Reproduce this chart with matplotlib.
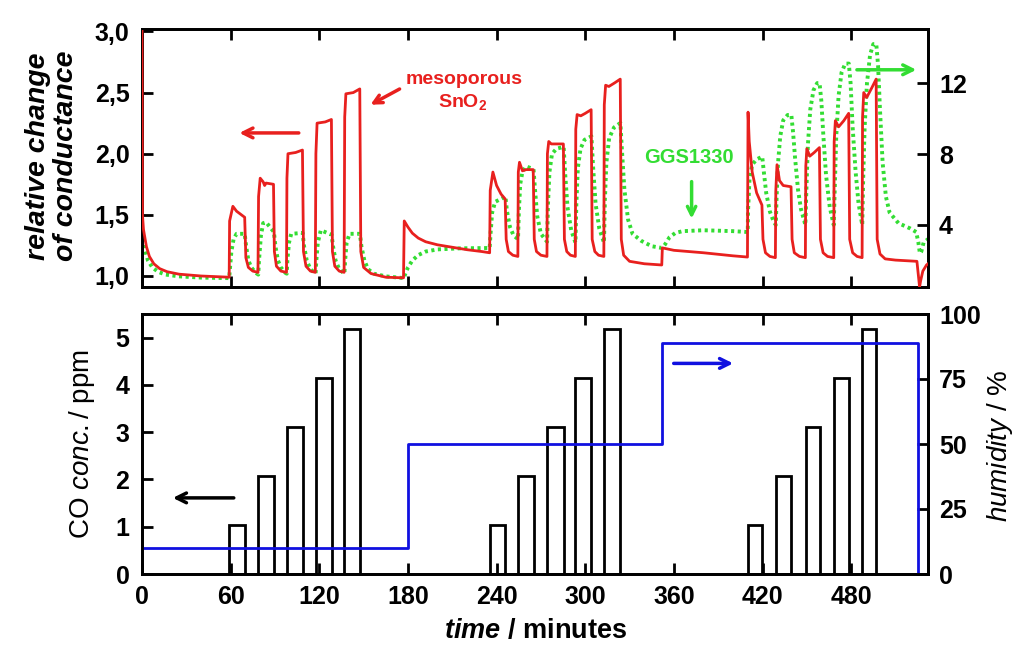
import matplotlib
matplotlib.use("Agg")
import matplotlib.pyplot as plt

plt.rcParams['font.family'] = ['Liberation Sans', 'DejaVu Sans']
plt.rcParams['mathtext.fontset'] = 'custom'
plt.rcParams['mathtext.it'] = 'Liberation Sans:italic'
plt.rcParams['mathtext.bf'] = 'Liberation Sans:bold:italic'
plt.rcParams['mathtext.rm'] = 'Liberation Sans'

# ---------------- data ----------------
# mesoporous SnO2: relative change of conductance (left axis, top panel)
red_t = [0, 0.3, 1, 3, 5, 8, 12, 17, 25, 40, 59,
         59.3, 61.5, 64, 69.5, 70.3, 72, 75, 78.5,
         78.9, 80, 82, 83, 84, 89, 89.6, 91, 94, 97.8,
         98.1, 98.8, 104, 108.6, 109.3, 111, 114, 117.3,
         117.7, 118.5, 124, 128.2, 128.9, 130.5, 133.5, 136.8,
         137.2, 138, 143, 147.4, 148.1, 150, 155, 165, 177,
         177.5, 180, 183, 187, 192, 200, 210, 220, 230, 235.3,
         235.7, 237.5, 240, 243, 245.8, 246.5, 248, 251, 254.4,
         254.7, 255.5, 257.5, 260, 264.8, 265.5, 267, 270, 274.1,
         274.4, 275.3, 277, 285.2, 285.9, 287.5, 290, 293.3,
         293.6, 294.5, 297, 300, 304, 304.7, 306.5, 309, 312.6,
         312.9, 313.8, 316, 320, 323.7, 324.4, 326, 330, 340, 351.8,
         352.2, 360, 380, 400, 409.8,
         410.2, 411, 413, 416, 419.6, 420.3, 422, 425, 428.7,
         429, 429.8, 431.5, 434, 439.3, 440, 441.5, 445, 449,
         449.3, 450, 452, 455, 458.5, 459.2, 461, 464, 468.2,
         468.5, 469.3, 471.5, 475, 478.3, 479, 481, 484, 487.4,
         487.7, 488.5, 490.5, 494, 496.9, 497.6, 499.5, 503, 510, 524.5,
         525.5, 526.3, 527, 528.5, 531, 532]
red_v = [3.0, 1.5, 1.38, 1.24, 1.16, 1.10, 1.06, 1.035, 1.015, 1.0, 0.99,
         1.45, 1.57, 1.53, 1.48, 1.15, 1.07, 1.04, 1.03,
         1.65, 1.80, 1.77, 1.74, 1.76, 1.75, 1.2, 1.08, 1.04, 1.03,
         1.8, 2.0, 2.01, 2.03, 1.2, 1.08, 1.04, 1.03,
         2.0, 2.25, 2.26, 2.28, 1.2, 1.08, 1.04, 1.03,
         2.3, 2.49, 2.50, 2.53, 1.2, 1.07, 1.02, 0.99, 0.985,
         1.45, 1.40, 1.35, 1.31, 1.28, 1.255, 1.235, 1.215, 1.20, 1.19,
         1.7, 1.85, 1.74, 1.67, 1.63, 1.3, 1.2, 1.17, 1.16,
         1.85, 1.93, 1.86, 1.87, 1.87, 1.3, 1.2, 1.17, 1.16,
         2.0, 2.10, 2.08, 2.08, 1.3, 1.2, 1.17, 1.16,
         2.2, 2.32, 2.31, 2.33, 2.36, 1.3, 1.2, 1.17, 1.16,
         2.4, 2.56, 2.55, 2.58, 2.61, 1.3, 1.17, 1.12, 1.10, 1.09,
         1.23, 1.21, 1.19, 1.165, 1.155,
         2.34, 2.1, 1.85, 1.68, 1.58, 1.3, 1.19, 1.16, 1.15,
         1.7, 1.91, 1.78, 1.74, 1.73, 1.3, 1.19, 1.16, 1.15,
         1.9, 2.04, 1.98, 2.01, 2.05, 1.3, 1.19, 1.16, 1.15,
         2.1, 2.27, 2.22, 2.27, 2.33, 1.3, 1.19, 1.16, 1.15,
         2.3, 2.50, 2.46, 2.54, 2.61, 1.3, 1.18, 1.14, 1.13, 1.12,
         1.0, 0.91, 0.96, 1.04, 1.09, 1.10]

# GGS1330 sensor signal (right axis, top panel)
green_t = [0, 0.5, 2, 4, 7, 11, 16, 25, 40, 59,
           59.5, 60.5, 62, 64, 69.5, 70.5, 72, 74, 77, 78.7,
           79.2, 80.5, 82, 84, 89.3, 90.3, 92, 94, 97, 98,
           98.4, 99.5, 101, 108.7, 109.7, 111.5, 114, 117.5,
           118, 119, 121, 124, 128.3, 129.3, 131, 133.5, 137,
           137.5, 138.5, 140.5, 147.5, 148.5, 150.5, 153, 157, 165, 177.5,
           178, 180, 183, 187, 192, 200, 215, 235.3,
           236, 237, 239, 246, 247, 249, 251.5, 254.5,
           255.1, 256, 257.5, 260, 265, 266, 267.5, 270, 274.2,
           274.8, 275.8, 277.5, 280.5, 285.4, 286.5, 288, 290.5, 293.4,
           294, 295, 296.8, 299.5, 304.2, 305.3, 307, 309.5, 312.7,
           313.3, 314.3, 316.2, 319.5, 323.8, 325, 326.5, 329, 332, 338, 345, 352,
           354, 357, 361, 366, 380, 400, 410,
           410.2, 411.2, 413, 416, 419.8, 421, 422.5, 425, 427.5, 429,
           429.5, 430.5, 432, 434, 437, 439.5, 440.7, 442, 444, 446, 449,
           449.7, 450.7, 452.3, 454.5, 457, 458.6, 459.8, 461.2, 463, 465.5, 468.2,
           468.9, 469.9, 471.5, 473.5, 476, 478.4, 479.6, 481, 483, 485, 487.5,
           488.1, 489.1, 490.7, 492.8, 495, 497, 498.2, 499.5, 501.3, 503.5, 506, 512, 520, 524,
           525.5, 526.5, 527.5, 529, 532]
green_v = [3.6, 3.3, 2.6, 2.0, 1.6, 1.35, 1.2, 1.1, 1.03, 1.0,
           1.5, 2.5, 3.2, 3.5, 3.5, 2.8, 2.0, 1.6, 1.3, 1.2,
           2.0, 3.4, 4.1, 4.15, 3.6, 2.8, 2.0, 1.6, 1.3, 1.25,
           2.0, 3.0, 3.5, 3.55, 2.8, 2.0, 1.5, 1.25,
           2.0, 3.0, 3.7, 3.6, 3.45, 2.8, 2.0, 1.5, 1.25,
           2.0, 3.0, 3.5, 3.5, 2.8, 2.0, 1.5, 1.25, 1.1, 1.0,
           1.2, 1.6, 2.0, 2.3, 2.5, 2.62, 2.68, 2.7,
           3.6, 4.7, 5.3, 5.6, 4.8, 3.9, 3.4, 3.2,
           4.8, 6.3, 7.0, 7.3, 7.15, 6.0, 4.5, 3.5, 3.05,
           5.2, 7.0, 8.0, 8.3, 8.4, 6.8, 5.0, 3.7, 3.0,
           5.2, 7.2, 8.3, 8.8, 9.0, 7.3, 5.2, 3.8, 3.0,
           5.4, 7.5, 8.9, 9.5, 9.75, 8.0, 6.0, 4.3, 3.5, 3.1, 2.8, 2.7,
           2.9, 3.3, 3.55, 3.65, 3.7, 3.65, 3.6,
           4.8, 6.6, 7.4, 7.7, 7.85, 6.9, 5.8, 4.75, 4.2, 4.0,
           5.5, 7.5, 9.0, 9.9, 10.2, 10.2, 9.2, 7.8, 6.0, 4.9, 4.0,
           6.0, 8.5, 10.5, 11.6, 12.0, 12.0, 11.0, 9.0, 6.8, 5.0, 4.0,
           6.0, 9.0, 11.3, 12.6, 13.1, 13.1, 12.0, 9.5, 7.0, 5.2, 4.0,
           6.5, 9.5, 12.0, 13.6, 14.2, 14.2, 13.0, 10.5, 7.5, 5.6, 4.7, 4.1, 3.8, 3.6,
           3.0, 2.4, 2.5, 3.0, 3.2]

# CO pulses: start / end time (minutes) and concentration (ppm)
co_start = [59.1, 78.7, 97.9, 117.5, 136.9,
            235.4, 254.5, 274.2, 293.4, 312.7,
            410.0, 428.9, 449.1, 468.3, 487.5]
co_end = [69.7, 89.3, 108.7, 128.3, 147.5,
          246.0, 265.0, 285.4, 304.2, 323.8,
          419.8, 439.5, 458.6, 478.4, 497.0]
co_conc = [1.03, 2.07, 3.10, 4.15, 5.19,
           1.03, 2.07, 3.10, 4.15, 5.19,
           1.03, 2.07, 3.10, 4.15, 5.19]

# humidity steps
hum_t = [0, 180, 352, 525]
hum_v = [10, 50, 89, 0]

x_ticks = [0, 60, 120, 180, 240, 300, 360, 420, 480]
top_left_ticks = [1.0, 1.5, 2.0, 2.5, 3.0]
top_left_labels = ['1,0', '1,5', '2,0', '2,5', '3,0']
top_right_ticks = [4, 8, 12]
bot_left_ticks = [0, 1, 2, 3, 4, 5]
bot_right_ticks = [0, 25, 50, 75, 100]

RED = '#e8201e'
GREEN = '#33dd33'
BLUE = '#1010e0'
TICKFS = 18

fig = plt.figure(figsize=(10.24, 6.57), dpi=100)
W, H = 1024, 657


def rect(l, t, r, b):
    return [l / W, 1 - b / H, (r - l) / W, (b - t) / H]


ax1 = fig.add_axes(rect(142, 29, 928, 287))
ax2 = fig.add_axes(rect(142, 314, 928, 574))
ax1r = ax1.twinx()
ax2r = ax2.twinx()

for a in (ax1, ax2, ax1r, ax2r):
    for s in a.spines.values():
        s.set_linewidth(2)
        s.set_color('black')

# top panel
ax1.plot(red_t, red_v, color=RED, lw=2.0, zorder=3)
ax1r.plot(green_t, green_v, color=GREEN, lw=2.8, linestyle=(0, (0.8, 0.9)), zorder=2)
ax1.set_zorder(ax1r.get_zorder() + 1)
ax1.patch.set_visible(False)

ax1.set_xlim(0, 532)
ax1.set_ylim(0.91, 3.02)
ax1r.set_ylim(0.5, 15.05)
ax1.set_xticks(x_ticks)
ax1.set_xticklabels([])
ax1.set_yticks(top_left_ticks)
ax1.set_yticklabels(top_left_labels)
ax1r.set_yticks(top_right_ticks)
ax1r.set_yticklabels([str(v) for v in top_right_ticks])

# bottom panel
for s, e, c in zip(co_start, co_end, co_conc):
    ax2.bar(s, c, width=e - s, align='edge', fill=False, edgecolor='black', linewidth=2, zorder=3)
ax2r.step(hum_t, hum_v, where='post', color=BLUE, lw=2)
ax2.set_xlim(0, 532)
ax2.set_ylim(0, 5.5)
ax2r.set_ylim(0, 100)
ax2.set_xticks(x_ticks)
ax2.set_xticklabels([str(v) for v in x_ticks])
ax2.set_yticks(bot_left_ticks)
ax2r.set_yticks(bot_right_ticks)

for a in (ax1, ax2):
    a.tick_params(axis='x', which='both', direction='in', length=8, width=2, top=True, bottom=True, pad=8)
    a.tick_params(axis='y', which='both', direction='in', length=8, width=2, left=True, right=False, pad=9)
for a in (ax1r, ax2r):
    a.tick_params(axis='y', which='both', direction='in', length=8, width=2, right=True, left=False, pad=8)
for a in (ax1, ax2, ax1r, ax2r):
    for lab in a.get_xticklabels() + a.get_yticklabels():
        lab.set_fontsize(TICKFS)
        lab.set_fontweight('bold')

# axis labels
fig.text(52 / W, 1 - 156 / H, 'relative change\nof conductance', rotation=90, ha='center', va='center',
         fontsize=20.5, fontstyle='italic', fontweight='bold', linespacing=1.12)
fig.text(82 / W, 1 - 444 / H, r'CO $\mathit{conc.}$/ ppm', rotation=90, ha='center', va='center',
         fontsize=20)
fig.text(1000 / W, 1 - 446 / H, r'$\mathit{humidity}$ / %', rotation=90, ha='center', va='center',
         fontsize=20)
fig.text(536 / W, 1 - 631 / H, r'$\mathbf{time}$ / minutes', ha='center', va='center',
         fontsize=19.5, fontweight='bold')

# annotations
ax1.annotate('', xy=(64, 2.17), xytext=(108, 2.17),
             arrowprops=dict(arrowstyle='->,head_length=0.7,head_width=0.35', color=RED, lw=2.5))
ax1.annotate('', xy=(153, 2.39), xytext=(176, 2.54),
             arrowprops=dict(arrowstyle='->,head_length=0.6,head_width=0.3', color=RED, lw=2.5))
ax1.text(218, 2.61, 'mesoporous', color=RED, fontsize=14, fontweight='bold', ha='center', va='center')
ax1.text(217, 2.42, r'SnO$_\mathregular{2}$', color=RED, fontsize=14, fontweight='bold', ha='center', va='center')
ax1r.text(370, 7.8, 'GGS1330', color=GREEN, fontsize=14.5, fontweight='bold', ha='center', va='center')
ax1r.annotate('', xy=(372, 4.2), xytext=(372, 6.6),
              arrowprops=dict(arrowstyle='->,head_length=0.6,head_width=0.3', color=GREEN, lw=2.5))
ax1r.annotate('', xy=(526, 12.75), xytext=(482, 12.75),
              arrowprops=dict(arrowstyle='->,head_length=0.7,head_width=0.35', color=GREEN, lw=2.5))
ax2.annotate('', xy=(19, 1.61), xytext=(64, 1.61),
             arrowprops=dict(arrowstyle='->,head_length=0.7,head_width=0.35', color='black', lw=2.5))
ax2r.annotate('', xy=(402, 81), xytext=(358, 81),
              arrowprops=dict(arrowstyle='->,head_length=0.7,head_width=0.35', color=BLUE, lw=2.5))

fig.savefig('out.png', dpi=100)
